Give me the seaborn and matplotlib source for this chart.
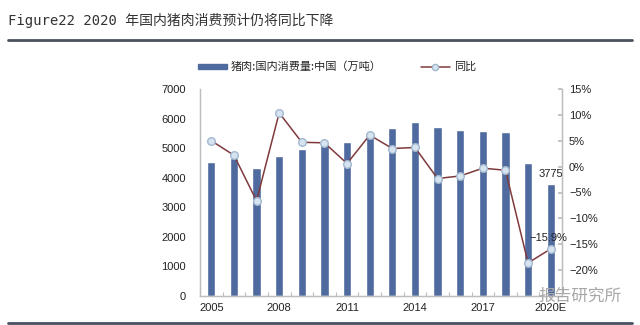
import numpy as np
import pandas as pd
import matplotlib
matplotlib.use("Agg")
import matplotlib.pyplot as plt
from matplotlib.lines import Line2D
from matplotlib.patches import Patch
from matplotlib.ticker import FuncFormatter, FixedLocator
import seaborn as sns

# Pork consumption in China (10k tonnes) and year-on-year change (%)
years = ["2005", "2006", "2007", "2008", "2009", "2010", "2011", "2012",
         "2013", "2014", "2015", "2016", "2017", "2018", "2019", "2020E"]
consumption = [4530, 4650, 4320, 4740, 4970, 5100, 5200, 5420,
               5680, 5880, 5730, 5610, 5590, 5530, 4490, 3775]
yoy = [5.0, 2.2, -6.6, 10.4, 4.7, 4.6, 0.6, 6.1,
       3.5, 3.7, -2.3, -1.8, -0.3, -0.7, -18.6, -15.9]
shown_years = ["2005", "2008", "2011", "2014", "2017", "2020E"]

bar_label = "猪肉:国内消费量:中国（万吨）"
line_label = "同比"
title = "Figure22 2020 年国内猪肉消费预计仍将同比下降"

df = pd.DataFrame({"year": years, "consumption": consumption, "yoy": yoy})

sns.set_theme(style="white")
plt.rcParams["font.family"] = ["Liberation Sans", "Noto Sans CJK SC"]

BAR = "#4F6A9E"
LINE = "#7E3A3C"
MK_FACE = "#D6E3F0"
MK_EDGE = "#A3B8CE"
AXIS = "#BDBDBD"
TEXT = "#222222"

fig = plt.figure(figsize=(6.4, 3.25), dpi=100)
ax = fig.add_axes([200 / 640, 29 / 325, 362 / 640, 207 / 325])

sns.barplot(data=df, x="year", y="consumption", color=BAR, width=0.36,
            saturation=1, ax=ax)
ax.set_ylim(0, 7000)
ax.set_yticks(range(0, 7001, 1000))
ax.set_xlabel("")
ax.set_ylabel("")

ax2 = ax.twinx()
sns.lineplot(x=np.arange(len(years)), y=df["yoy"], ax=ax2, color=LINE,
             linewidth=1.1, marker="o", markersize=5.5,
             markerfacecolor=MK_FACE, markeredgecolor=MK_EDGE,
             markeredgewidth=1.0)
ax2.set_ylim(-25, 15)
ax2.yaxis.set_major_locator(FixedLocator(range(-20, 16, 5)))
ax2.yaxis.set_major_formatter(
    FuncFormatter(lambda v, p: f"{v:.0f}%".replace("-", "\u2212")))
ax2.set_ylabel("")

ax.set_xlim(-0.5, len(years) - 0.5)
ax2.set_xlim(-0.5, len(years) - 0.5)

# category ticks: labels every third year, small marks between bars
pos = [years.index(y) for y in shown_years]
ax.set_xticks(pos)
ax.set_xticklabels(shown_years)
ax.set_xticks(np.arange(-0.5, len(years), 1.0), minor=True)

for a in (ax, ax2):
    for s in a.spines.values():
        s.set_color(AXIS)
        s.set_linewidth(0.9)
    a.spines["top"].set_visible(False)
    a.grid(False)

ax.tick_params(axis="y", which="major", length=0, labelsize=8,
               labelcolor=TEXT, pad=10)
ax.tick_params(axis="x", which="major", length=0, labelsize=8,
               labelcolor=TEXT, pad=5)
ax.tick_params(axis="x", which="minor", direction="in", length=3,
               color=AXIS, width=0.8, bottom=True)
ax2.tick_params(axis="y", direction="in", length=3, color=AXIS,
                labelsize=8, labelcolor=TEXT, pad=5)

# value labels for the forecast year
last = len(years) - 1
ax.annotate(f"{consumption[last]}", (last, consumption[last]),
            xytext=(0, 4), textcoords="offset points", ha="center",
            va="bottom", fontsize=8, color=TEXT)
ax2.annotate(f"{yoy[last]:.1f}%".replace("-", "\u2212"), (last, yoy[last]),
             xytext=(-2, 4), textcoords="offset points", ha="center",
             va="bottom", fontsize=8, color=TEXT)

# legend above the plot
handles = [Patch(facecolor=BAR, edgecolor=BAR),
           Line2D([0], [0], color=LINE, linewidth=1.1, marker="o",
                  markersize=4.5, markerfacecolor=MK_FACE,
                  markeredgecolor=MK_EDGE)]
fig.legend(handles, [bar_label, line_label], ncol=2, loc="center",
           bbox_to_anchor=(337 / 640, 1 - 67 / 325), frameon=False,
           handlelength=2.6, handleheight=0.4,
           columnspacing=3.5, handletextpad=0.4,
           prop={"family": ["Noto Sans CJK SC"], "size": 8})

# heading and rules
fig.text(8 / 640, 1 - 20 / 325, title, ha="left", va="center",
         fontsize=10, color="#333333",
         family=["DejaVu Sans Mono", "Noto Sans CJK SC"])
fig.add_artist(Line2D([8 / 640, 632 / 640], [1 - 40 / 325, 1 - 40 / 325],
                      color="#4B5060", linewidth=2))
fig.add_artist(Line2D([8 / 640, 632 / 640], [1 - 323 / 325, 1 - 323 / 325],
                      color="#4B5060", linewidth=2))

fig.text(580 / 640, 1 - 296 / 325, "报告研究所", ha="center", va="center",
         fontsize=12, color="#A8A8A8", family=["Noto Sans CJK SC"])

fig.savefig("out.png", dpi=100, facecolor="white")
